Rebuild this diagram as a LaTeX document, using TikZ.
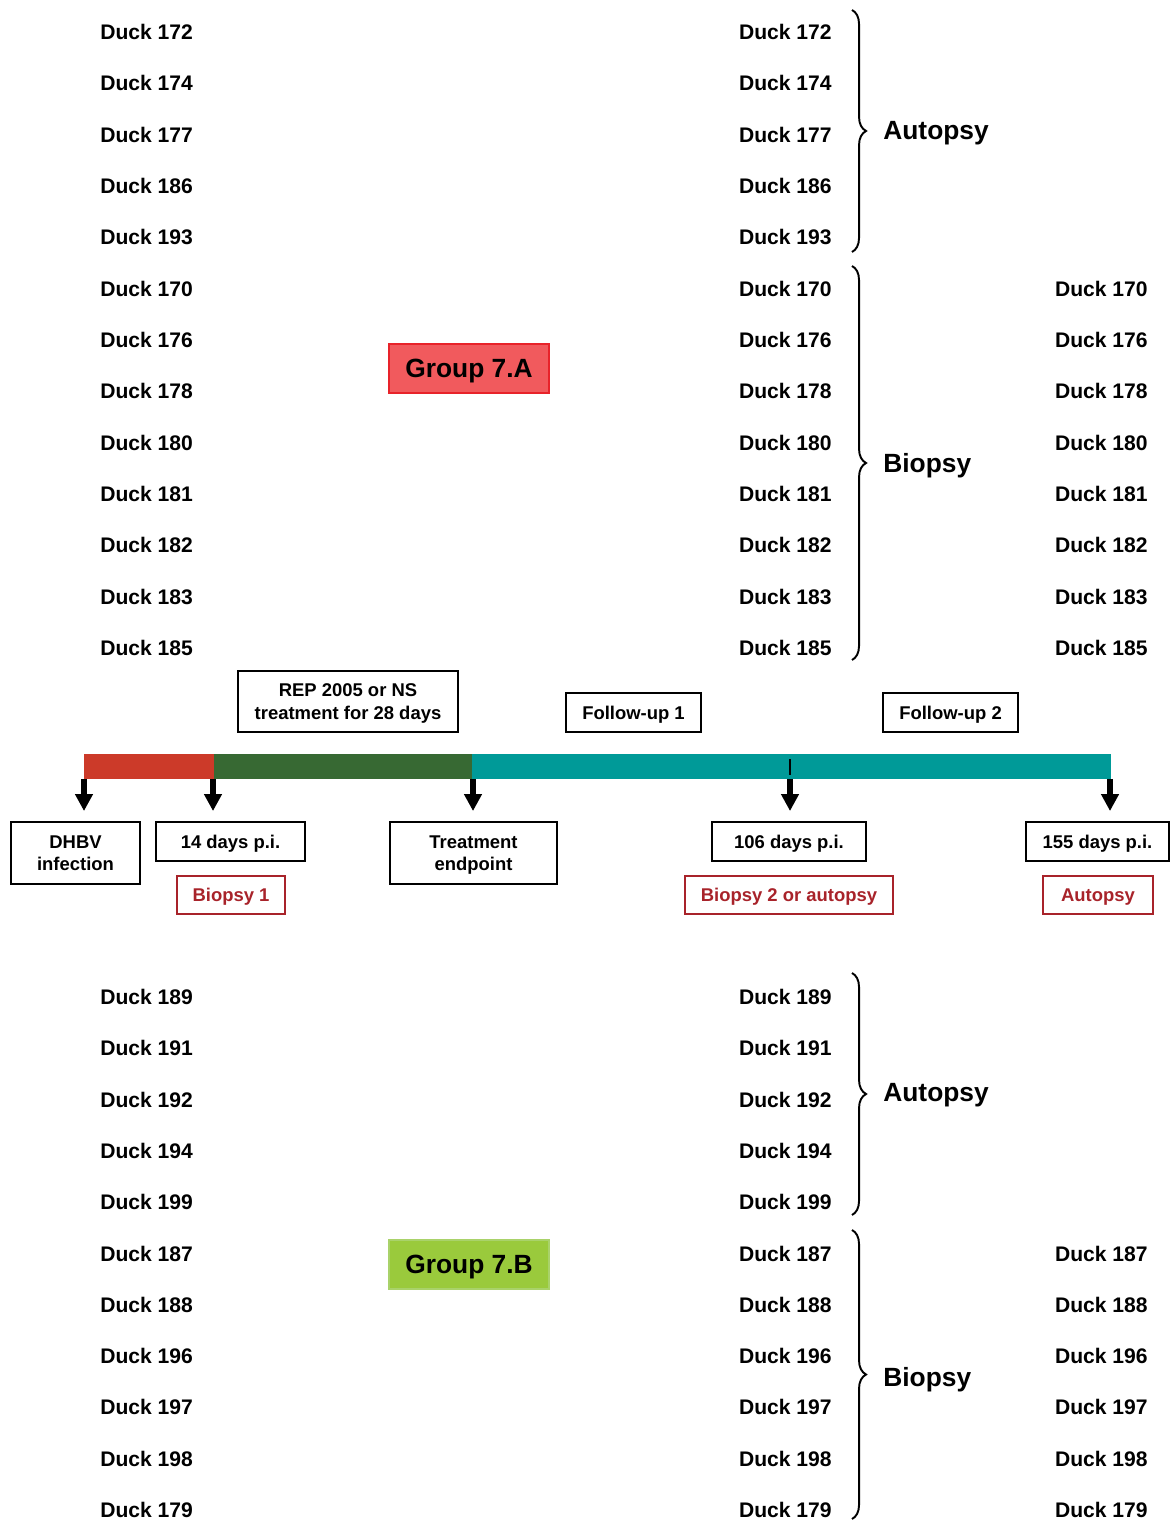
\documentclass[tikz,border=0pt]{standalone}
\usepackage{fontspec}
\setmainfont{Liberation Sans}
\usepackage{xcolor}
\usetikzlibrary{arrows.meta, decorations.pathreplacing, positioning}
\definecolor{infred}{HTML}{CC3A29}
\definecolor{treatgreen}{HTML}{376933}
\definecolor{followteal}{HTML}{009A98}
\definecolor{grpredfill}{HTML}{F15A5D}
\definecolor{grpredline}{HTML}{E8232A}
\definecolor{grpgreenfill}{HTML}{9ACA3C}
\definecolor{grpgreenline}{HTML}{A9D26A}
\definecolor{biored}{HTML}{A8232A}
\tikzstyle{duck} = [font=\bfseries\fontsize{12}{14}\selectfont, inner sep=0pt, text height=8.6pt, text depth=0pt]
\tikzstyle{tlbox} = [draw, line width=1.1pt, align=center, inner sep=0pt, font=\bfseries\fontsize{10.5}{12.8}\selectfont]
\tikzstyle{oneline} = [text height=7.5pt, text depth=0pt]
\tikzstyle{twoline} = [text height=20.3pt, text depth=0pt]
\tikzstyle{redbox} = [tlbox, oneline, draw=biored, text=biored, line width=0.9pt]
\tikzstyle{grp} = [draw, line width=0.9pt, minimum width=3.2cm, minimum height=0.98cm, text height=10.7pt, text depth=0pt, font=\bfseries\fontsize{15}{18}\selectfont]
\tikzstyle{bracelbl} = [anchor=west, inner sep=0pt, text height=10.7pt, text depth=0pt, font=\bfseries\fontsize{15}{18}\selectfont]
\tikzstyle{brc} = [decorate, decoration={brace, amplitude=8pt}, line width=1.1pt]
\tikzstyle{arrow} = [line width=3pt, -{Triangle[width=0.34cm,length=0.34cm]}, shorten >=0.2cm]

\begin{document}
\begin{tikzpicture}[x=0.02cm, y=-0.02cm]
\useasboundingbox (0,0) rectangle (1171,1523);

%group 7.A
\foreach \d [count=\i] in {172,174,177,186,193,170,176,178,180,181,182,183,185} {
  \node[duck, anchor=west] (al\i) at (100, {32+51.33*(\i-1)}) {Duck \d};
  \node[duck, anchor=east] (am\i) at (832, {32+51.33*(\i-1)}) {Duck \d};
}
\foreach \d [count=\i from 6] in {170,176,178,180,181,182,183,185}
  \node[duck, anchor=east] (ar\i) at (1148, {32+51.33*(\i-1)}) {Duck \d};
\draw[brc] (852,10) -- (852,252);
\draw[brc] (852,266) -- (852,660);
\node[bracelbl] (autA) at (883,130) {Autopsy};
\node[bracelbl] (bioA) at (883,463) {Biopsy};
\node[grp, fill=grpredfill, draw=grpredline] (grpA) at (469,368.5) {Group 7.A};

%group 7.B
\foreach \d [count=\i] in {189,191,192,194,199,187,188,196,197,198,179} {
  \node[duck, anchor=west] (bl\i) at (100, {997+51.3*(\i-1)}) {Duck \d};
  \node[duck, anchor=east] (bm\i) at (832, {997+51.3*(\i-1)}) {Duck \d};
}
\foreach \d [count=\i from 6] in {187,188,196,197,198,179}
  \node[duck, anchor=east] (br\i) at (1148, {997+51.3*(\i-1)}) {Duck \d};
\draw[brc] (852,973) -- (852,1215);
\draw[brc] (852,1230) -- (852,1519);
\node[bracelbl] (autB) at (883,1092) {Autopsy};
\node[bracelbl] (bioB) at (883,1377) {Biopsy};
\node[grp, fill=grpgreenfill, draw=grpgreenline] (grpB) at (469,1264.5) {Group 7.B};

%timeline
\fill[infred] (84,754) rectangle (214,779);
\fill[treatgreen] (214,754) rectangle (472,779);
\fill[followteal] (472,754) rectangle (1111,779);
\draw[line width=1.1pt] (790,759) -- (790,775);
\coordinate (t1) at (84,779);
\coordinate (t2) at (213,779);
\coordinate (t3) at (473,779);
\coordinate (t4) at (790,779);
\coordinate (t5) at (1110,779);

%boxes above
\node[tlbox, twoline, minimum width=4.4cm, minimum height=1.22cm] (rep) at (348,701.5) {REP 2005 or NS\\treatment for 28 days};
\node[tlbox, oneline, minimum width=2.7cm, minimum height=0.78cm] (fu1) at (633.5,712.5) {Follow-up 1};
\node[tlbox, oneline, minimum width=2.7cm, minimum height=0.78cm] (fu2) at (950.5,712.5) {Follow-up 2};

%boxes below
\node[tlbox, twoline, minimum width=2.58cm, minimum height=1.24cm] (dhbv) at (75.5,853) {DHBV\\infection};
\node[tlbox, oneline, minimum width=2.98cm, minimum height=0.78cm] (d14) at (230.5,841.5) {14 days p.i.};
\node[tlbox, twoline, minimum width=3.34cm, minimum height=1.24cm] (endpt) at (473.5,853) {Treatment\\endpoint};
\node[tlbox, oneline, minimum width=3.08cm, minimum height=0.78cm] (d106) at (789,841.5) {106 days p.i.};
\node[tlbox, oneline, minimum width=2.86cm, minimum height=0.78cm] (d155) at (1097.5,841.5) {155 days p.i.};
\node[redbox, minimum width=2.16cm, minimum height=0.76cm] (bio1) at (231,895) {Biopsy 1};
\node[redbox, minimum width=4.16cm, minimum height=0.76cm] (bio2) at (789,895) {Biopsy 2 or autopsy};
\node[redbox, minimum width=2.2cm, minimum height=0.76cm] (aut) at (1098,895) {Autopsy};

%arrows
\draw[arrow] (t1) -- (t1 |- dhbv.north);
\draw[arrow] (t2) -- (t2 |- d14.north);
\draw[arrow] (t3) -- (t3 |- endpt.north);
\draw[arrow] (t4) -- (t4 |- d106.north);
\draw[arrow] (t5) -- (t5 |- d155.north);
\end{tikzpicture}
\end{document}
